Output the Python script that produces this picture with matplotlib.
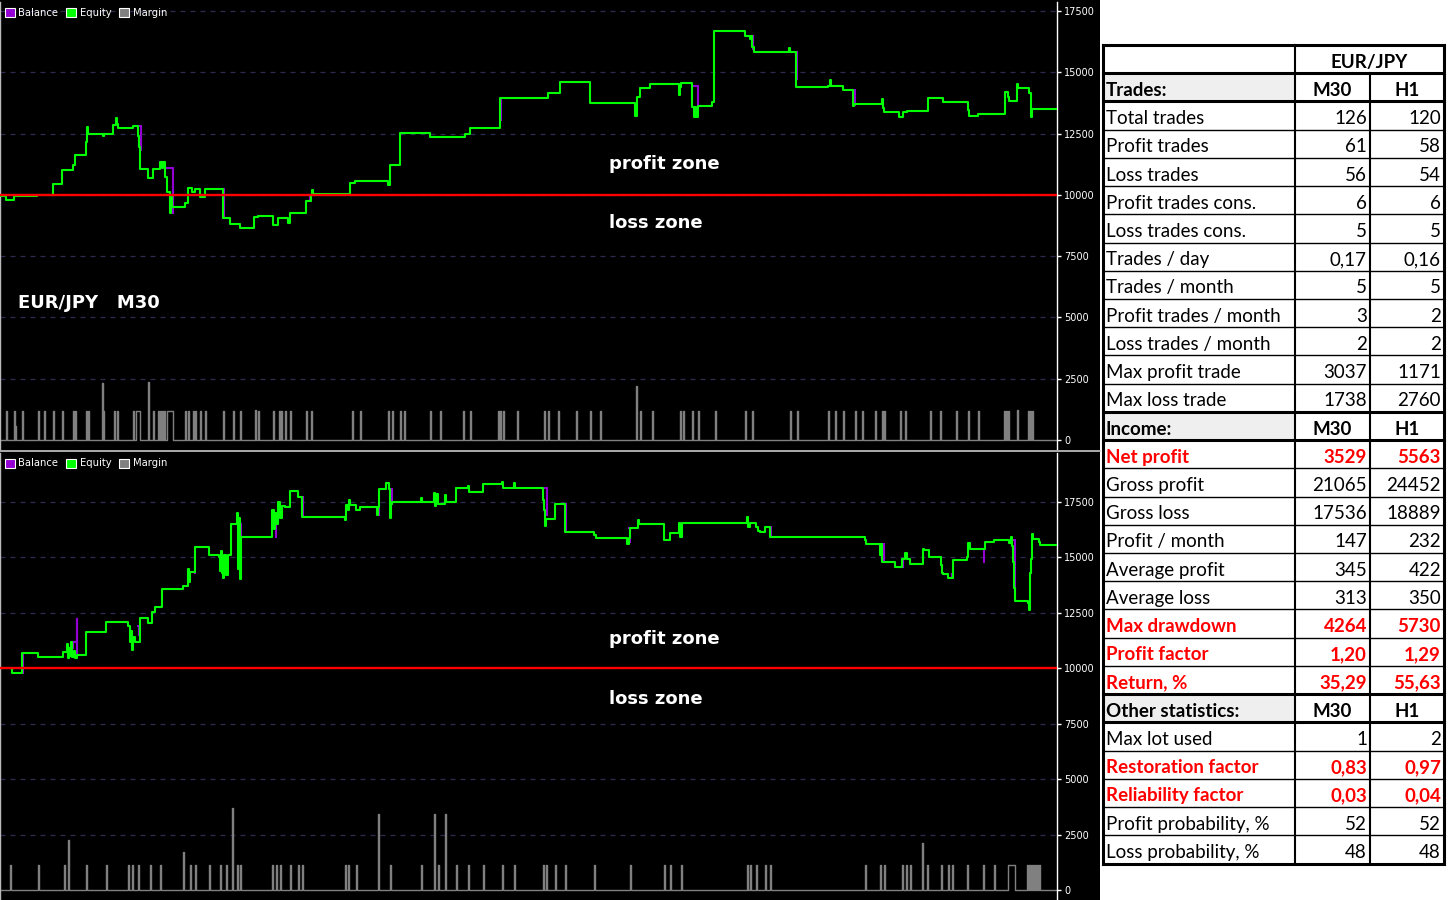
import matplotlib
matplotlib.use("Agg")
import matplotlib.pyplot as plt
from matplotlib.patches import Rectangle, Patch

# ---------------- data ----------------
# top panel (M30): equity step series (time index, value)
top_t = [0, 6, 14, 37, 53, 62, 73, 75, 86, 87, 88, 103, 104, 113, 116, 117, 118, 133, 138, 139,
         140, 148, 153, 160, 162, 163, 165, 167, 170, 171, 172, 185, 188, 192, 195, 200, 205, 223,
         230, 240, 254, 258, 273, 278, 288, 290, 306, 311, 312, 313, 350, 355, 388, 390, 400, 430,
         465, 470, 500, 548, 560, 590, 635, 637, 640, 650, 679, 680, 681, 692, 694, 695, 696, 698,
         712, 714, 745, 750, 751, 752, 754, 789, 790, 796, 828, 830, 831, 843, 853, 854, 882, 883,
         884, 899, 903, 907, 928, 943, 968, 969, 978, 1005, 1008, 1009, 1017, 1018, 1029, 1031,
         1032, 1057]
top_eq = [9950, 9790, 9950, 9990, 10445, 11016, 11220, 11628, 12158, 12770, 12485, 12400, 12485,
          12852, 13137, 12900, 12730, 12811, 12400, 11954, 11057, 10690, 11057, 11342, 11100, 11342,
          10730, 10100, 9262, 9900, 9506, 9670, 10282, 10100, 10250, 9914, 10241, 9058, 8813, 8650,
          9098, 9139, 8772, 9058, 8854, 9262, 9751, 9996, 10200, 10020, 10486, 10567, 10404, 11220,
          12525, 12362, 12480, 12730, 13954, 14157, 14606, 13750, 13200, 14000, 14362, 14512, 14076,
          14400, 14566, 13600, 13192, 13600, 13192, 13627, 13790, 16687, 16483, 16360, 16483, 16034,
          15830, 16000, 15830, 14402, 14443, 14680, 14443, 14280, 13640, 13695, 13900, 13545, 13382,
          13178, 13368, 13423, 13940, 13777, 13464, 13220, 13300, 14184, 14007, 13831, 14525, 14347,
          14143, 13192, 13490, 13490]
# balance changes visible next to equity (start, end, from value, to value)
top_bal_x0 = [138, 165, 222, 309, 501, 692, 752, 795, 853]
top_bal_x1 = [141, 173, 224, 310, 501, 698, 753, 797, 855]
top_bal_v0 = [12811, 11085, 10228, 9996, 13870, 14430, 16483, 15817, 14280]
top_bal_v1 = [11832, 9262, 9045, 9751, 13050, 13600, 15940, 14716, 13668]
# margin (open position intervals)
top_mg_s = [6, 14, 15, 22, 38, 44, 53, 62, 73, 75, 86, 88, 102, 103, 114, 117, 133, 136, 148, 153,
            158, 160, 162, 164, 167, 185, 188, 193, 195, 200, 205, 223, 233, 240, 255, 258, 273, 279,
            281, 285, 290, 306, 311, 352, 360, 388, 392, 400, 404, 430, 440, 463, 470, 498, 500, 503,
            517, 544, 548, 558, 576, 590, 600, 636, 640, 652, 680, 683, 692, 698, 715, 745, 752, 790,
            797, 828, 835, 843, 855, 862, 875, 882, 884, 900, 905, 930, 940, 956, 968, 978, 1004,
            1006, 1008, 1017, 1028, 1030, 1032]
top_mg_e = [7, 15, 16, 23, 39, 45, 54, 63, 74, 76, 87, 89, 103, 104, 115, 118, 134, 140, 149, 154,
            159, 161, 163, 165, 173, 186, 189, 194, 196, 201, 206, 224, 234, 241, 256, 259, 274, 280,
            282, 286, 291, 307, 312, 353, 361, 389, 393, 401, 405, 431, 441, 464, 471, 499, 501, 504,
            518, 545, 549, 559, 577, 591, 601, 637, 641, 653, 681, 684, 693, 699, 716, 746, 753, 791,
            798, 829, 836, 844, 856, 863, 876, 883, 885, 901, 906, 931, 941, 957, 969, 979, 1005,
            1007, 1009, 1018, 1029, 1031, 1033]
top_mg_v = [1180, 1180, 580, 1180, 1180, 1180, 1180, 1180, 1180, 1180, 1180, 1180, 2330, 1180, 1180,
            1180, 1180, 1180, 2370, 1180, 1180, 1180, 1180, 1180, 1180, 1180, 1180, 1180, 1180, 1180,
            1180, 1180, 1180, 1180, 1210, 1180, 1180, 1180, 1180, 1180, 1180, 1180, 1180, 1180, 1180,
            1180, 1180, 1180, 1180, 1180, 1180, 1180, 1180, 1180, 1180, 1180, 1180, 1180, 1180, 1180,
            1180, 1180, 1180, 2200, 1180, 1180, 1180, 1180, 1180, 1180, 1180, 1180, 1180, 1180, 1180,
            1180, 1180, 1180, 1180, 1180, 1180, 1180, 1180, 1180, 1180, 1180, 1180, 1180, 1180, 1180,
            1180, 1180, 1180, 1230, 1180, 1180, 1180]

# bottom panel (H1)
bot_t = [0, 12, 22, 38, 63, 67, 68, 69, 70, 71, 72, 74, 75, 77, 86, 106, 128, 130, 131, 132, 133,
         135, 140, 148, 152, 155, 162, 183, 188, 189, 190, 195, 209, 219, 220, 221, 222, 223, 224,
         226, 228, 231, 237, 238, 239, 240, 241, 272, 274, 275, 277, 278, 280, 282, 285, 290, 298,
         302, 345, 346, 348, 349, 350, 356, 360, 377, 378, 379, 386, 389, 390, 391, 392, 421, 422,
         434, 435, 436, 438, 445, 446, 456, 468, 469, 483, 502, 503, 514, 515, 543, 544, 545, 546,
         555, 565, 594, 596, 627, 629, 630, 638, 639, 664, 670, 679, 680, 682, 747, 748, 750, 756,
         758, 760, 765, 770, 865, 866, 880, 881, 882, 895, 902, 905, 907, 910, 923, 924, 929, 941,
         942, 943, 948, 953, 967, 968, 970, 985, 994, 1009, 1011, 1012, 1013, 1014, 1015, 1028,
         1029, 1030, 1031, 1032, 1033, 1039, 1040, 1057]
bot_eq = [10000, 9803, 10675, 10495, 10720, 11080, 10450, 10900, 10550, 11170, 10500, 10800, 10450,
          10600, 11620, 12073, 11920, 11198, 11700, 10824, 11400, 11198, 12254, 12058, 12551, 12777,
          13576, 13711, 14500, 13900, 14355, 15456, 15109, 15000, 14400, 15300, 14300, 14053, 15100,
          14200, 15109, 16507, 17003, 14500, 16800, 14026, 15907, 17138, 16300, 17000, 16500, 17507,
          16800, 17300, 17287, 18006, 17737, 16808, 16687, 17364, 17138, 17589, 17364, 17138, 17258,
          16900, 17258, 18070, 18340, 18070, 16763, 17409, 17512, 17700, 17512, 17888, 17300, 17843,
          17393, 17800, 17482, 18115, 18220, 17933, 18310, 18400, 18115, 18350, 18115, 17589, 17138,
          16417, 16718, 17409, 16160, 16010, 15862, 15605, 15862, 16310, 16687, 16492, 15786, 16115,
          16537, 15907, 16537, 16838, 16357, 16537, 16387, 16200, 16145, 16357, 15937, 15786, 15590,
          15100, 15590, 14806, 14580, 14910, 15210, 14910, 14715, 15360, 15334, 15000, 14657, 14280,
          14250, 14053, 14883, 15000, 15635, 15360, 15680, 15786, 15635, 15900, 15500, 14806, 13606,
          13036, 12929, 12628, 14280, 14910, 16040, 15830, 15680, 15560, 15560]
bot_bal_x0 = [22, 70, 73, 77, 138, 195, 240, 276, 302, 379, 389, 543, 565, 629, 681, 770, 882, 902,
              940, 952, 983, 1008, 1031]
bot_bal_x1 = [23, 73, 77, 77, 139, 195, 241, 276, 303, 379, 392, 547, 566, 630, 682, 771, 884, 903,
              941, 952, 984, 1015, 1031]
bot_bal_v0 = [9803, 10900, 11170, 12208, 11920, 15029, 16507, 16600, 17737, 17393, 18070, 18115,
              17409, 16310, 16537, 16357, 15590, 14580, 15000, 14250, 15360, 15786, 14280]
bot_bal_v1 = [10675, 11170, 12208, 10525, 11500, 14279, 15907, 15900, 16808, 16913, 17512, 16913,
              16160, 15704, 15907, 15937, 14806, 14910, 14657, 14053, 14806, 13081, 14600]
bot_mg_s = [10, 38, 64, 68, 86, 106, 128, 132, 138, 150, 160, 183, 190, 195, 209, 220, 226, 232, 237,
            240, 272, 276, 280, 290, 298, 302, 345, 348, 356, 378, 390, 421, 434, 438, 445, 456, 468,
            483, 502, 514, 543, 546, 555, 565, 594, 630, 664, 670, 681, 747, 750, 756, 765, 770, 865,
            880, 884, 902, 906, 910, 922, 927, 941, 948, 952, 967, 983, 994, 1008, 1027, 1029, 1031,
            1033, 1035, 1037, 1039]
bot_mg_e = [11, 39, 65, 69, 87, 107, 129, 133, 139, 151, 161, 184, 191, 196, 210, 221, 227, 233, 238,
            241, 273, 277, 281, 291, 299, 303, 346, 349, 357, 379, 391, 422, 435, 439, 446, 457, 469,
            484, 503, 515, 544, 547, 556, 566, 595, 631, 665, 671, 682, 748, 751, 757, 766, 771, 866,
            881, 885, 903, 907, 911, 923, 928, 942, 949, 953, 968, 984, 995, 1015, 1028, 1030, 1032,
            1034, 1036, 1038, 1040]
bot_mg_v = [1130, 1130, 1130, 2255, 1130, 1130, 1130, 1130, 1130, 1130, 1130, 1700, 1130, 1130, 1130,
            1130, 1130, 3700, 1130, 1130, 1130, 1130, 1130, 1130, 1130, 1130, 1130, 1130, 1130, 3450,
            1130, 1130, 3450, 1130, 3450, 1130, 1130, 1130, 1130, 1130, 1130, 1130, 1130, 1130, 1130,
            1130, 1130, 1130, 1130, 1130, 1130, 1130, 1130, 1130, 1130, 1130, 1130, 1130, 1130, 1130,
            2100, 1130, 1130, 1130, 1130, 1130, 1130, 1130, 1130, 1130, 1130, 1130, 1130, 1130, 1130,
            1130]

yticks = [0, 2500, 5000, 7500, 10000, 12500, 15000, 17500]
legend_labels = ["Balance", "Equity", "Margin"]

# table
row_labels = ["", "Trades:", "Total trades", "Profit trades", "Loss trades", "Profit trades cons.",
              "Loss trades cons.", "Trades / day", "Trades / month", "Profit trades / month",
              "Loss trades / month", "Max profit trade", "Max loss trade", "Income:", "Net profit",
              "Gross profit", "Gross loss", "Profit / month", "Average profit", "Average loss",
              "Max drawdown", "Profit factor", "Return, %", "Other statistics:", "Max lot used",
              "Restoration factor", "Reliability factor", "Profit probability, %",
              "Loss probability, %"]
col_m30 = ["EUR/JPY", "M30", "126", "61", "56", "6", "5", "0,17", "5", "3", "2", "3037", "1738",
           "M30", "3529", "21065", "17536", "147", "345", "313", "4264", "1,20", "35,29", "M30",
           "1", "0,83", "0,03", "52", "48"]
col_h1 = ["", "H1", "120", "58", "54", "6", "5", "0,16", "5", "2", "2", "1171", "2760", "H1",
          "5563", "24452", "18889", "232", "422", "350", "5730", "1,29", "55,63", "H1", "2", "0,97",
          "0,04", "52", "48"]
header_rows = [1, 13, 23]
red_rows = [14, 20, 21, 22, 25, 26]

# ---------------- styling ----------------
W, H = 1450, 900
GREEN = "#00FF00"
PURPLE = "#9400D3"
GREY = "#808080"
GRID = "#2c2c50"

fig = plt.figure(figsize=(W / 100, H / 100), dpi=100)
fig.patch.set_facecolor("white")
fig.add_artist(Rectangle((0, 0), 1100 / W, 1, transform=fig.transFigure,
                         facecolor="black", edgecolor="none", zorder=-5))


def px_axes(x0, y0, x1, y1, **kw):
    return fig.add_axes([x0 / W, 1 - y1 / H, (x1 - x0) / W, (y1 - y0) / H], **kw)


def margin_path(s, e, v):
    xs, ys = [0], [0]
    for a, b, c in sorted(zip(s, e, v)):
        xs += [a, a, b, b]
        ys += [0, c, c, 0]
    xs.append(1057)
    ys.append(0)
    return xs, ys


def panel(ax, t, eq, bx0, bx1, bv0, bv1, ms, me, mv, ylim, texts):
    ax.set_facecolor("black")
    ax.set_xlim(0, 1057)
    ax.set_ylim(*ylim)
    ax.set_xticks([])
    ax.yaxis.tick_right()
    ax.set_yticks(yticks)
    ax.set_yticklabels([str(v) for v in yticks])
    ax.tick_params(axis="y", colors="white", labelsize=7, length=3, width=1, pad=2)
    for sp in ["top", "bottom"]:
        ax.spines[sp].set_visible(False)
    ax.spines["right"].set_color("white")
    ax.spines["right"].set_linewidth(1)
    ax.spines["left"].set_color("#bbbbbb")
    ax.spines["left"].set_linewidth(1)
    for v in yticks[1:]:
        ax.axhline(v, color=GRID, lw=0.9, ls=(0, (4, 4)), zorder=1)
    mx, my = margin_path(ms, me, mv)
    ax.plot(mx, my, color=GREY, lw=1.0, zorder=2)
    for a, b, c, d in zip(bx0, bx1, bv0, bv1):
        ax.plot([a, b, b], [c, c, d], color=PURPLE, lw=1.5, zorder=3,
                solid_joinstyle="miter")
    ax.plot(t, eq, drawstyle="steps-post", color=GREEN, lw=1.5, zorder=4)
    ax.axhline(10000, color="#FF0000", lw=1.7, zorder=5)
    for (x, y, s) in texts:
        ax.text(x, y, s, color="white", fontsize=13, fontweight="bold",
                family="DejaVu Sans", va="center", ha="left", zorder=6)
    handles = [Patch(facecolor=PURPLE, edgecolor="white", lw=0.8),
               Patch(facecolor=GREEN, edgecolor="white", lw=0.8),
               Patch(facecolor=GREY, edgecolor="white", lw=0.8)]
    h = ax.get_position().height * H
    leg = ax.legend(handles, legend_labels, loc="upper left",
                    bbox_to_anchor=(0.002, 1 - 3.0 / h),
                    ncol=3, frameon=False, fontsize=7.2, handlelength=1.0, handleheight=1.0,
                    handletextpad=0.35, columnspacing=0.8, borderpad=0.25, borderaxespad=0.0)
    for tx in leg.get_texts():
        tx.set_color("white")


ax1 = px_axes(0, 2, 1057, 449)
panel(ax1, top_t, top_eq, top_bal_x0, top_bal_x1, top_bal_v0, top_bal_v1,
      top_mg_s, top_mg_e, top_mg_v, (-367, 17867),
      [(609, 11260, "profit zone"), (609, 8854, "loss zone"), (18, 5590, "EUR/JPY   M30")])

ax2 = px_axes(0, 453, 1057, 899)
panel(ax2, bot_t, bot_eq, bot_bal_x0, bot_bal_x1, bot_bal_v0, bot_bal_v1,
      bot_mg_s, bot_mg_e, bot_mg_v, (-406, 19710),
      [(609, 11320, "profit zone"), (609, 8614, "loss zone")])

# overlay axes in pixel coordinates (separator + table)
tax = fig.add_axes([0, 0, 1, 1], zorder=10)
tax.set_xlim(0, W)
tax.set_ylim(H, 0)
tax.axis("off")
tax.plot([0, 1100], [451, 451], color="#c8c8c8", lw=1.2)

X0, X1, X2, X3 = 1103, 1295, 1370, 1444
TOP, BOT = 45, 863.5
n = len(row_labels)
rh = (BOT - TOP) / n
FONT = "Lato"
FS = 13.5

for i, lab in enumerate(row_labels):
    y0 = TOP + i * rh
    yc = y0 + rh / 2 + 3.0
    if i == 0:
        tax.text((X1 + X3) / 2, yc, col_m30[i], ha="center", va="center", fontsize=FS,
                 fontweight="bold", family=FONT, color="black")
        continue
    if i in header_rows:
        tax.add_patch(Rectangle((X0, y0), X1 - X0, rh, facecolor="#EFEFEF", edgecolor="none"))
        tax.text(X0 + 3, yc, lab, ha="left", va="center", fontsize=FS, fontweight="bold",
                 family=FONT, color="black")
        tax.text((X1 + X2) / 2, yc, col_m30[i], ha="center", va="center", fontsize=FS,
                 fontweight="bold", family=FONT, color="black")
        tax.text((X2 + X3) / 2, yc, col_h1[i], ha="center", va="center", fontsize=FS,
                 fontweight="bold", family=FONT, color="black")
    else:
        red = i in red_rows
        c = "#FF0000" if red else "black"
        fw = "bold" if red else "normal"
        tax.text(X0 + 3, yc, lab, ha="left", va="center", fontsize=FS, fontweight=fw,
                 family=FONT, color=c)
        tax.text(X2 - 3, yc, col_m30[i], ha="right", va="center", fontsize=FS, fontweight=fw,
                 family=FONT, color=c)
        tax.text(X3 - 3, yc, col_h1[i], ha="right", va="center", fontsize=FS, fontweight=fw,
                 family=FONT, color=c)

thick_bounds = {0, 1, 2, 13, 14, 23, 24, n}
for k in range(n + 1):
    y = TOP + k * rh
    tax.plot([X0, X3], [y, y], color="black", lw=2.2 if k in thick_bounds else 1.0,
             solid_capstyle="projecting")
tax.plot([X0, X0], [TOP, BOT], color="black", lw=2.2, solid_capstyle="projecting")
tax.plot([X3, X3], [TOP, BOT], color="black", lw=2.2, solid_capstyle="projecting")
tax.plot([X1, X1], [TOP, BOT], color="black", lw=1.5)
tax.plot([X2, X2], [TOP + rh, BOT], color="black", lw=1.5)

fig.savefig("out.png", dpi=100, facecolor=fig.get_facecolor())
